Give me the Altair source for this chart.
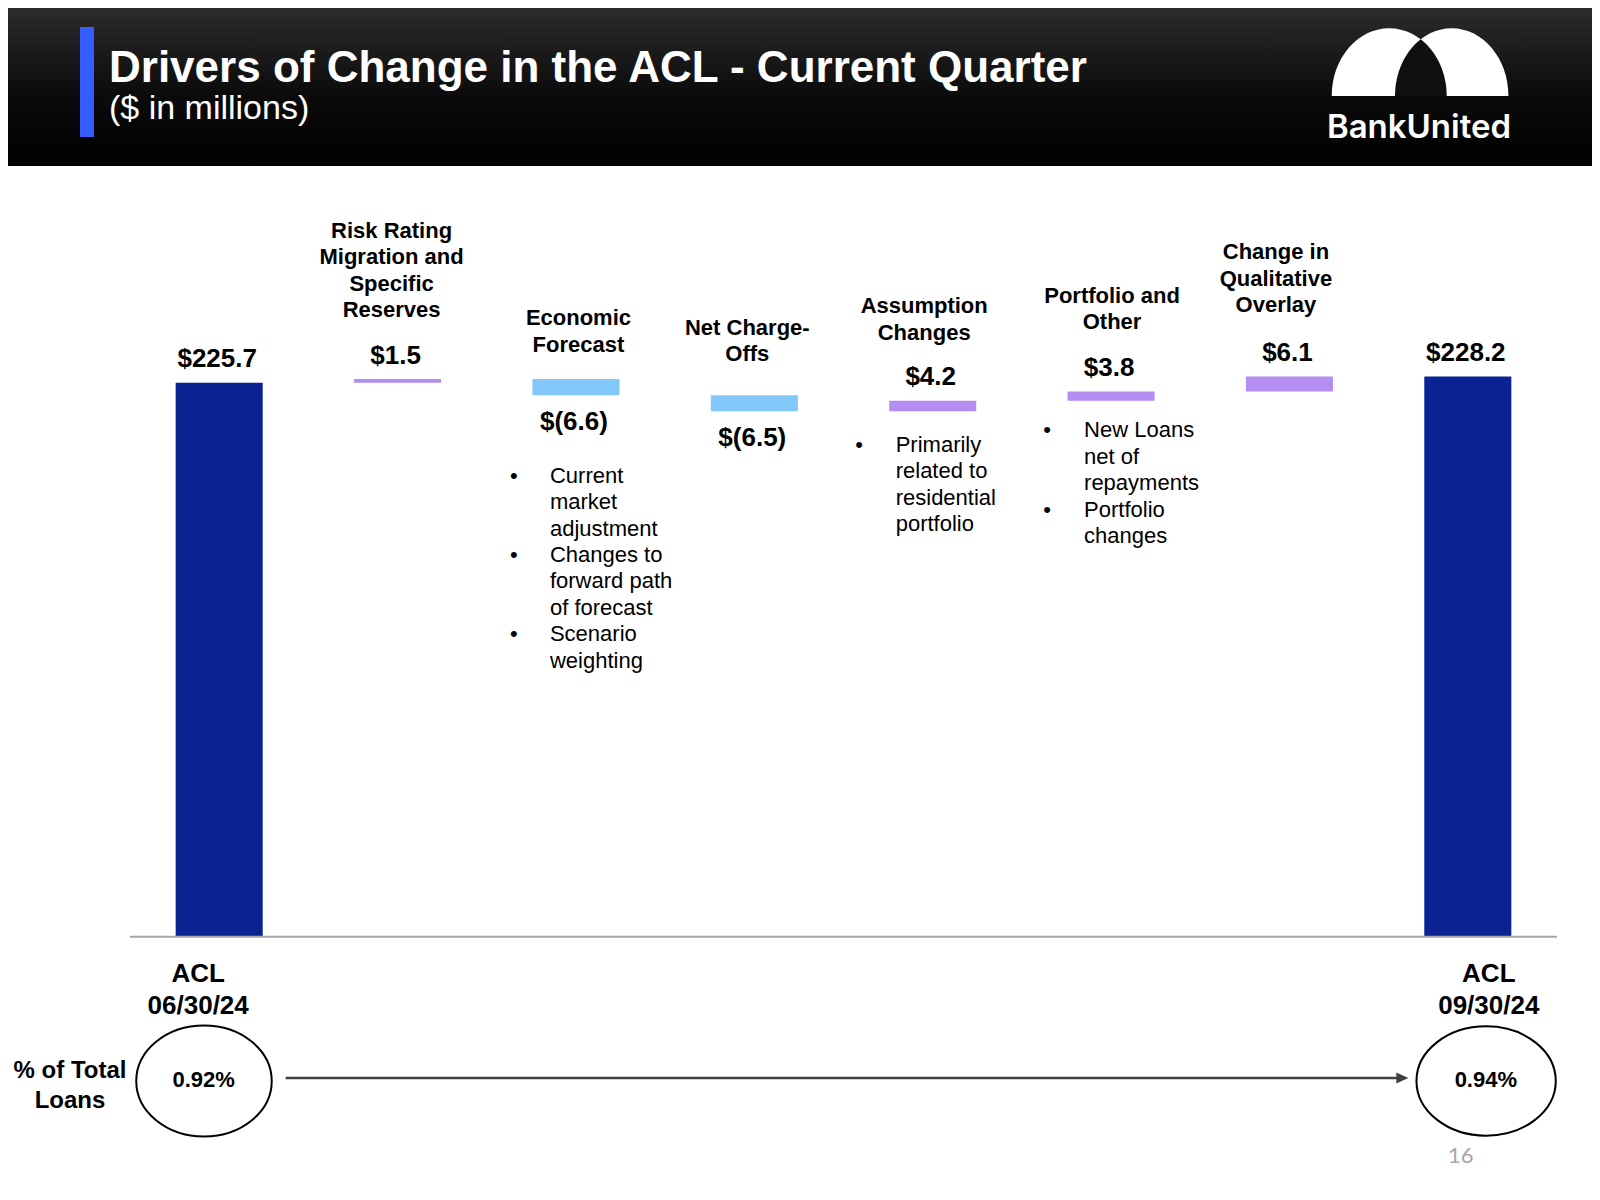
import altair as alt
import pandas as pd

# ---------------- data ----------------
steps = [
    "ACL 06/30/24",
    "Risk Rating Migration and Specific Reserves",
    "Economic Forecast",
    "Net Charge-Offs",
    "Assumption Changes",
    "Portfolio and Other",
    "Change in Qualitative Overlay",
    "ACL 09/30/24",
]
step_kinds = ["total", "increase", "decrease", "decrease", "increase", "increase", "increase", "total"]
amounts = [225.7, 1.5, -6.6, -6.5, 4.2, 3.8, 6.1, 228.2]
amount_labels = ["$225.7", "$1.5", "$(6.6)", "$(6.5)", "$4.2", "$3.8", "$6.1", "$228.2"]
header_lines = [
    [],
    ["Risk Rating", "Migration and", "Specific", "Reserves"],
    ["Economic", "Forecast"],
    ["Net Charge-", "Offs"],
    ["Assumption", "Changes"],
    ["Portfolio and", "Other"],
    ["Change in", "Qualitative", "Overlay"],
    [],
]
footer_lines = [["ACL", "06/30/24"], [], [], [], [], [], [], ["ACL", "09/30/24"]]
note_items = [
    [],
    [],
    [["Current", "market", "adjustment"], ["Changes to", "forward path", "of forecast"], ["Scenario", "weighting"]],
    [],
    [["Primarily", "related to", "residential", "portfolio"]],
    [["New Loans", "net of", "repayments"], ["Portfolio", "changes"]],
    [],
    [],
]
pct_steps = ["ACL 06/30/24", "ACL 09/30/24"]
pct_labels = ["0.92%", "0.94%"]

title_text = "Drivers of Change in the ACL - Current Quarter"
subtitle_text = "($ in millions)"
brand_text = "BankUnited"
row_label = "% of Total\nLoans"
page_number = "16"

# ---------------- tables ----------------
rows = []
running = 0.0
for s, k, a, lab in zip(steps, step_kinds, amounts, amount_labels):
    if k == "total":
        start, end = 0.0, a
    else:
        start, end = running, running + a
    running = end
    rows.append(dict(step=s, kind=k, start=start, end=end,
                     top=max(start, end), bottom=min(start, end), label=lab))
bars = pd.DataFrame(rows)

head_rows = []
for r, lines in zip(rows, header_lines):
    n = len(lines)
    for i, t in enumerate(lines):
        head_rows.append(dict(step=r["step"], kind=r["kind"], top=r["top"], text=t, k=n - 1 - i))
heads = pd.DataFrame(head_rows)

note_rows = []
for r, items in zip(rows, note_items):
    i = 0
    for item in items:
        for j, t in enumerate(item):
            note_rows.append(dict(step=r["step"], kind=r["kind"], bottom=r["bottom"],
                                  text=t, i=i, first=(j == 0)))
            i += 1
notes = pd.DataFrame(note_rows)

feet = pd.DataFrame([dict(step=s, text="\n".join(l)) for s, l in zip(steps, footer_lines) if l])
pcts = pd.DataFrame(dict(step=pct_steps, label=pct_labels))
one = pd.DataFrame({"d": [0]})

# ---------------- style / layout ----------------
FONT = "Liberation Sans"
NAVY = "#0B2293"
PURPLE = "#B38DF2"
LIGHTBLUE = "#82C8FA"
LINE_H = 26.4

# per-column text-box placement (pixel offsets from the band centre / bar edge)
HEAD_POS = {  # (dx, gap from bar top to last line baseline)
    steps[1]: (-6, -62.0),
    steps[2]: (2.5, -27.5),
    steps[3]: (-7, -34.0),
    steps[4]: (-8.5, -61.0),
    steps[5]: (1, -62.5),
    steps[6]: (-13.5, -64.5),
}
NOTE_POS = {  # (text dx, bullet dx, gap from bar bottom to first baseline)
    steps[2]: (-26, -62, 87.5),
    steps[4]: (-37, -73.5, 40.8),
    steps[5]: (-27, -64, 36.6),
}

X_SCALE = alt.Scale(domain=steps, range=[122, 1549], paddingInner=0.512, paddingOuter=0.256)
Y_SCALE = alt.Scale(domain=[0, 230], range=[928.7, 364.14], nice=False, zero=True)


def xenc():
    return alt.X("step:N", scale=X_SCALE, axis=None)


def yenc(field):
    return alt.Y(field, scale=Y_SCALE, axis=None)


layers = []

# header band
grad = alt.Gradient(
    gradient="linear",
    stops=[alt.GradientStop(color="#2b2b2b", offset=0),
           alt.GradientStop(color="#0b0b0b", offset=0.55),
           alt.GradientStop(color="#000000", offset=1)],
    x1=0, x2=0, y1=0, y2=1,
)
layers.append(alt.Chart(one).mark_rect(color=grad).encode(
    x=alt.value(0), x2=alt.value(1584), y=alt.value(0), y2=alt.value(158)))
layers.append(alt.Chart(one).mark_rect(color="#335DFF").encode(
    x=alt.value(72), x2=alt.value(86), y=alt.value(19), y2=alt.value(129)))
layers.append(alt.Chart(one).mark_text(
    text=title_text, font=FONT, fontSize=44, fontWeight="bold", color="white",
    align="left", baseline="alphabetic").encode(x=alt.value(101), y=alt.value(74)))
layers.append(alt.Chart(one).mark_text(
    text=subtitle_text, font=FONT, fontSize=34, color="white",
    align="left", baseline="alphabetic").encode(x=alt.value(101), y=alt.value(110.5)))

# logo
dome_left = "M-57.5,0 A57.5,67.7 0 0,1 57.5,0 Z"
dome_right = "M-56.7,0 A56.7,67.7 0 0,1 56.7,0 Z"
lens = "M5.8,0 A56.7,67.7 0 0,1 31.47,-56.66 A57.5,67.7 0 0,1 57.5,0 Z"
layers.append(alt.Chart(one).mark_point(shape=dome_left, size=4, filled=True, color="white",
                                        opacity=1, strokeWidth=0).encode(
    x=alt.value(1381.2), y=alt.value(88)))
layers.append(alt.Chart(one).mark_point(shape=dome_right, size=4, filled=True, color="white",
                                        opacity=1, strokeWidth=0).encode(
    x=alt.value(1443.7), y=alt.value(88)))
layers.append(alt.Chart(one).mark_point(shape=lens, size=4, filled=True, color="#101010",
                                        opacity=1, strokeWidth=0).encode(
    x=alt.value(1381.2), y=alt.value(88)))
layers.append(alt.Chart(one).mark_text(
    text=brand_text, font="Inter", fontSize=33, fontWeight=600, color="white",
    align="center", baseline="alphabetic").encode(x=alt.value(1411), y=alt.value(130.3)))

# waterfall bars
layers.append(alt.Chart(bars).mark_bar().encode(
    x=xenc(), y=yenc("start:Q"), y2="end:Q",
    color=alt.Color("kind:N", scale=alt.Scale(domain=["total", "increase", "decrease"],
                                              range=[NAVY, PURPLE, LIGHTBLUE]), legend=None),
))

# baseline
layers.append(alt.Chart(one).mark_rule(color="#a6a6a6", strokeWidth=2).encode(
    x=alt.value(122), x2=alt.value(1549),
    y=alt.Y(datum=0, type="quantitative", scale=Y_SCALE, axis=None)))

# value labels: above for totals / increases, below for decreases
layers.append(alt.Chart(bars).transform_filter(alt.datum.kind != "decrease").mark_text(
    font=FONT, fontSize=26, fontWeight="bold", color="black",
    align="center", baseline="alphabetic", dx=-2, dy=-15.5).encode(
    x=xenc(), y=yenc("top:Q"), text="label:N"))
layers.append(alt.Chart(bars).transform_filter(alt.datum.kind == "decrease").mark_text(
    font=FONT, fontSize=26, fontWeight="bold", color="black",
    align="center", baseline="alphabetic", dx=-2, dy=34.5).encode(
    x=xenc(), y=yenc("bottom:Q"), text="label:N"))

# category labels above bars, one layer per (column, line-from-bottom)
for s, (hdx, base) in HEAD_POS.items():
    for k in sorted(heads.loc[heads.step == s, "k"].unique()):
        layers.append(alt.Chart(heads).transform_filter(
            (alt.datum.step == s) & (alt.datum.k == int(k))).mark_text(
            font=FONT, fontSize=22, fontWeight="bold", color="black",
            align="center", baseline="alphabetic", dx=hdx, dy=base - int(k) * LINE_H).encode(
            x=xenc(), y=yenc("top:Q"), text="text:N"))

# bulleted notes below bars
for s, (tdx, bdx, base) in NOTE_POS.items():
    for i in sorted(notes.loc[notes.step == s, "i"].unique()):
        sel = (alt.datum.step == s) & (alt.datum.i == int(i))
        layers.append(alt.Chart(notes).transform_filter(sel).mark_text(
            font=FONT, fontSize=22, color="black",
            align="left", baseline="alphabetic", dx=tdx, dy=base + int(i) * LINE_H).encode(
            x=xenc(), y=yenc("bottom:Q"), text="text:N"))
        layers.append(alt.Chart(notes).transform_filter(sel & alt.datum.first).mark_text(
            text="\u2022", font=FONT, fontSize=22, color="black",
            align="center", baseline="alphabetic", dx=bdx, dy=base + int(i) * LINE_H).encode(
            x=xenc(), y=yenc("bottom:Q")))

# footer labels (ACL dates)
for s, dx in [(steps[0], -21), (steps[-1], 21)]:
    layers.append(alt.Chart(feet).transform_filter(alt.datum.step == s).mark_text(
        font=FONT, fontSize=26, fontWeight="bold", color="black", align="center",
        baseline="alphabetic", lineBreak="\n", lineHeight=32.5, dx=dx).encode(
        x=xenc(), y=alt.value(973.7), text="text:N"))

# ellipses with percentages
ellipse_left = "M-82.95,0 A67.75,55.5 0 1,0 52.55,0 A67.75,55.5 0 1,0 -82.95,0 Z"
ellipse_right = "M-51.35,0 A69.65,54.65 0 1,0 87.95,0 A69.65,54.65 0 1,0 -51.35,0 Z"
for s, shp, dx in [(pct_steps[0], ellipse_left, -15.5), (pct_steps[1], ellipse_right, 18)]:
    layers.append(alt.Chart(pcts).transform_filter(alt.datum.step == s).mark_point(
        shape=shp, size=4, filled=False, color="black", strokeWidth=2, opacity=1).encode(
        x=xenc(), y=alt.value(1073)))
    layers.append(alt.Chart(pcts).transform_filter(alt.datum.step == s).mark_text(
        font=FONT, fontSize=22, fontWeight="bold", color="black", align="center",
        baseline="alphabetic", dx=dx).encode(
        x=xenc(), y=alt.value(1078.7), text="label:N"))

# arrow between ellipses
layers.append(alt.Chart(one).mark_rule(color="#404040", strokeWidth=2.5).encode(
    x=alt.value(277.7), x2=alt.value(1389), y=alt.value(1070)))
layers.append(alt.Chart(one).mark_point(shape="M-6,-5.5 L6,0 L-6,5.5 Z", size=4, filled=True,
                                        color="#404040", opacity=1, strokeWidth=0).encode(
    x=alt.value(1394.3), y=alt.value(1070)))

# row label and page number
layers.append(alt.Chart(one).mark_text(
    text=row_label, font=FONT, fontSize=24, fontWeight="bold", color="black",
    align="center", baseline="alphabetic", lineBreak="\n", lineHeight=30.6).encode(
    x=alt.value(62), y=alt.value(1069.5)))
layers.append(alt.Chart(one).mark_text(
    text=page_number, font="Lato", fontSize=22, color="#a6a6a6",
    align="center", baseline="alphabetic").encode(x=alt.value(1452.7), y=alt.value(1155.3)))

chart = alt.layer(*layers).properties(
    width=1584, height=1184,
    autosize=alt.AutoSizeParams(type="none"),
    padding=0,
    background="white",
).configure_view(stroke=None)

chart.save("out.html", embed_options={"renderer": "svg", "actions": False})
